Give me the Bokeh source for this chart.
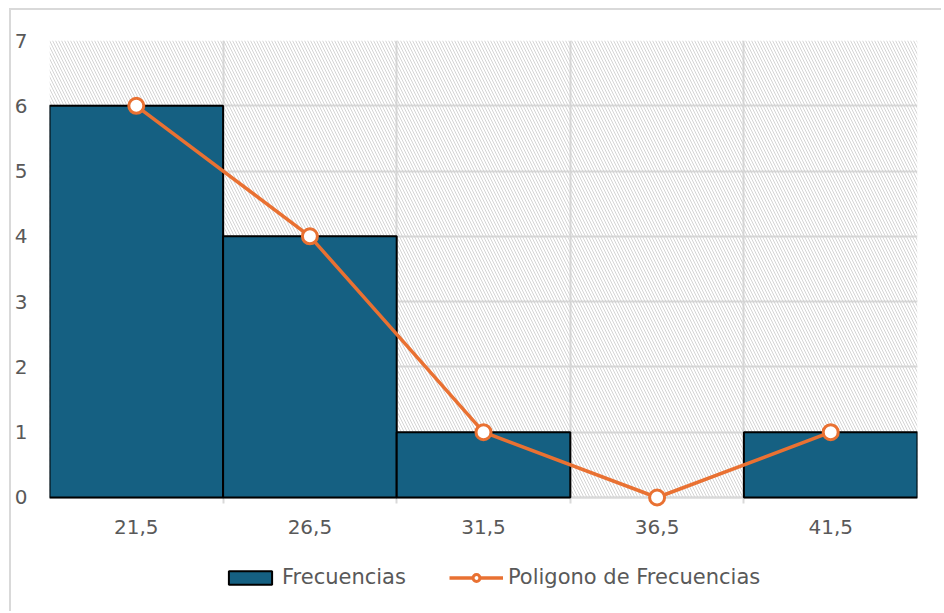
from bokeh.plotting import figure
from bokeh.models import (Range1d, FixedTicker, BoxAnnotation, Legend, LegendItem,
                          ColumnDataSource, Span, Grid, CDSView, BooleanFilter)
from bokeh.core.properties import value
from bokeh.embed import file_html
from bokeh.resources import INLINE

# ---- data ----
categories = ["21,5", "26,5", "31,5", "36,5", "41,5"]
frecuencias = [6, 4, 1, 0, 1]
poligono = [6, 4, 1, 0, 1]
y_ticks = [0, 1, 2, 3, 4, 5, 6, 7]

BAR = "#156082"
ORANGE = "#E97132"
GRID = "#d9d9d9"
TXT = "#595959"
FONT = "DejaVu Sans"

n = len(categories)
centers = [i + 0.5 for i in range(n)]
edges = [float(i) for i in range(n + 1)]
ymax = max(y_ticks)

W, H = 932, 603
p = figure(width=W, height=H, output_backend="svg", toolbar_location=None,
           x_range=Range1d(0, n), y_range=Range1d(-1.777, ymax),
           x_axis_location=None,
           min_border_left=38, min_border_top=30, min_border_right=26,
           min_border_bottom=0)
p.styles = {"margin-left": "9px", "margin-top": "8px",
            "border-left": "2px solid #d9d9d9", "border-top": "2px solid #d9d9d9"}
p.outline_line_color = None
p.background_fill_color = "white"
p.border_fill_color = "white"

# hatched plot-area background (from 0 to top)
hatch = BoxAnnotation(bottom=y_ticks[0], fill_alpha=0, line_color=None, hatch_pattern="\\",
                      hatch_color="#cfcfcf", hatch_scale=6, hatch_weight=1,
                      hatch_alpha=0.9, level="underlay")
p.add_layout(hatch)

# y axis
p.yaxis.ticker = FixedTicker(ticks=y_ticks)
p.yaxis.axis_line_color = None
p.yaxis.major_tick_line_color = None
p.yaxis.minor_tick_line_color = None
p.yaxis.major_tick_out = 0
p.yaxis.major_label_standoff = 22
p.yaxis.major_label_text_font = FONT
p.yaxis.major_label_text_font_size = "20px"
p.yaxis.major_label_text_color = TXT

p.ygrid.grid_line_color = GRID
p.ygrid.grid_line_width = 2
p.ygrid.ticker = FixedTicker(ticks=y_ticks)

# vertical grid lines at category boundaries (with short tick below the axis)
xt = FixedTicker(ticks=centers, minor_ticks=edges)
p.xgrid.ticker = xt
p.xgrid.grid_line_color = None
p.xgrid.minor_grid_line_color = GRID
p.xgrid.minor_grid_line_width = 2
if "cross_bounds" in Grid.properties():
    p.xgrid.cross_bounds = (-0.09, ymax)
else:
    p.xgrid.minor_grid_line_color = None
    p.segment(x0=edges, x1=edges, y0=[-0.09] * len(edges), y1=[ymax] * len(edges),
              line_color=GRID, line_width=2, level="underlay")

# x axis line
p.add_layout(Span(location=y_ticks[0], dimension="width", line_color=GRID,
                  line_width=2, level="underlay"))

# category labels
p.text(x=centers, y=[0] * n, text=categories, text_align="center", text_baseline="top",
       y_offset=23, text_font=value(FONT), text_font_size="20px", text_color=TXT)

src = ColumnDataSource(dict(x=centers, f=frecuencias, pol=poligono))
nonzero = CDSView(filter=BooleanFilter([f > 0 for f in frecuencias]))
bars = p.vbar(x="x", top="f", width=1, bottom=0, source=src, view=nonzero,
              fill_color=BAR, line_color="black", line_width=2)
line = p.line(x="x", y="pol", source=src, line_color=ORANGE, line_width=3.5)
marks = p.scatter(x="x", y="pol", source=src, marker="circle", size=15,
                  fill_color="white", line_color=ORANGE, line_width=3)

legend = Legend(items=[LegendItem(label="Frecuencias", renderers=[bars]),
                       LegendItem(label="Poligono de Frecuencias", renderers=[line, marks])],
                location=(174, 24), orientation="horizontal",
                glyph_width=54, glyph_height=17, label_standoff=5, spacing=43,
                padding=0, margin=0, border_line_color=None,
                background_fill_alpha=0,
                label_text_font=FONT, label_text_font_size="21px",
                label_text_color=TXT)
p.add_layout(legend, "center")

open("out.html", "w").write(file_html(p, INLINE))
